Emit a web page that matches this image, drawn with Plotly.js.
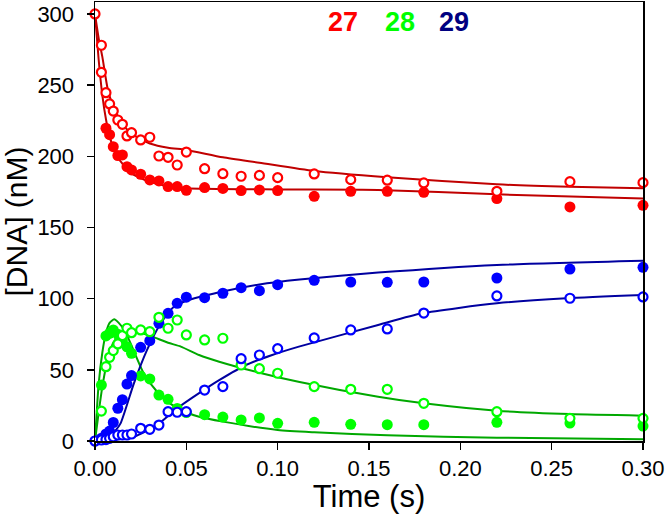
<!DOCTYPE html>
<html>
<head>
<meta charset="utf-8">
<script src="https://cdn.plot.ly/plotly-3.0.1.min.js"></script>
<style>
  html, body { margin: 0; padding: 0; background: #fff; }
  #chart { width: 666px; height: 514px; }
</style>
</head>
<body>
<div id="chart"></div>
<script>
// measured points (time in s, [DNA] in nM)
const t27open = [0, 0.0035, 0.0035, 0.006, 0.008, 0.010, 0.0125, 0.015, 0.0175, 0.020, 0.025, 0.030, 0.035, 0.040, 0.045, 0.050, 0.06, 0.07, 0.08, 0.09, 0.10, 0.12, 0.14, 0.16, 0.18, 0.22, 0.26, 0.30];
const y27open = [300, 278, 259, 244.7, 236.8, 231.8, 225.5, 222.5, 214.3, 216.6, 211.5, 213.4, 200.2, 199.3, 193.9, 203, 191.3, 187.8, 186, 186.6, 185, 187.6, 183.6, 183.2, 181.3, 175.4, 182.2, 181.5];

const t27filled = [0.006, 0.008, 0.010, 0.0125, 0.015, 0.0175, 0.020, 0.025, 0.030, 0.035, 0.040, 0.045, 0.050, 0.06, 0.07, 0.08, 0.09, 0.10, 0.12, 0.14, 0.16, 0.18, 0.22, 0.26, 0.30];
const y27filled = [219.7, 215.2, 206.8, 200.5, 201, 192.7, 190.4, 187.4, 183.4, 182.7, 178.7, 178.7, 176.1, 178, 177.4, 175.9, 176.4, 175.9, 171.9, 175.4, 175.4, 174.7, 170.3, 164.4, 165.6];

const t28open = [0.0035, 0.006, 0.008, 0.010, 0.0125, 0.015, 0.0175, 0.020, 0.025, 0.030, 0.035, 0.040, 0.045, 0.050, 0.06, 0.07, 0.08, 0.09, 0.10, 0.12, 0.14, 0.16, 0.18, 0.22, 0.26, 0.30];
const y28open = [21, 52.2, 58.8, 63.5, 68.2, 74, 79.2, 76.1, 78, 76.8, 86.9, 79.2, 85, 74.5, 71, 72.2, 53.4, 50.8, 47.6, 38.2, 36.3, 36.3, 26.5, 20.6, 15.9, 15.9];

const t28filled = [0.0035, 0.006, 0.008, 0.010, 0.0125, 0.015, 0.0175, 0.020, 0.025, 0.030, 0.035, 0.040, 0.045, 0.050, 0.06, 0.07, 0.08, 0.09, 0.10, 0.12, 0.14, 0.16, 0.18, 0.22, 0.26, 0.30];
const y28filled = [39.3, 73.8, 75.7, 78, 75, 71, 66.2, 61.6, 45.7, 43.6, 32.3, 29.3, 22.9, 20, 18.5, 16.8, 14.8, 16.2, 12.4, 13.1, 11.7, 11.5, 11.5, 13.1, 12.6, 10.5];

const t29open = [0, 0.0035, 0.006, 0.008, 0.010, 0.0125, 0.015, 0.0175, 0.020, 0.025, 0.030, 0.035, 0.040, 0.045, 0.050, 0.06, 0.07, 0.08, 0.09, 0.10, 0.12, 0.14, 0.16, 0.18, 0.22, 0.26, 0.30];
const y29open = [0, 0.7, 1, 1.9, 3, 4.2, 4.2, 4.2, 4.9, 8.9, 8.2, 11.2, 20.6, 20.2, 20.6, 35.8, 38.2, 57.8, 60.4, 64.9, 72.4, 78, 78.7, 89.9, 101.9, 100.3, 101.2];

const t29filled = [0, 0.0035, 0.006, 0.008, 0.010, 0.0125, 0.015, 0.0175, 0.020, 0.025, 0.030, 0.035, 0.040, 0.045, 0.050, 0.06, 0.07, 0.08, 0.09, 0.10, 0.12, 0.14, 0.16, 0.18, 0.22, 0.26, 0.30];
const y29filled = [0, 2, 5, 7, 13, 23, 29, 40, 46, 65.8, 70.5, 82.7, 89.7, 96.7, 101, 100.7, 103.8, 107.7, 105.6, 109.8, 112.9, 111.7, 111.5, 111.7, 114.5, 120.8, 122];

// fitted curves
const tFit27open = [0, 0.002, 0.004, 0.007, 0.010, 0.013, 0.016, 0.020, 0.025, 0.030, 0.040, 0.050, 0.070, 0.090, 0.120, 0.160, 0.220, 0.260, 0.300];
const yFit27open = [300, 283, 270, 247, 235, 227, 221, 216, 212, 209, 206, 204.5, 199.3, 195.5, 189.7, 185.3, 180.3, 178.6, 177.5];

const tFit27filled = [0, 0.002, 0.004, 0.006, 0.008, 0.012, 0.020, 0.030, 0.040, 0.050, 0.100, 0.155, 0.220, 0.300];
const yFit27filled = [300, 268, 243, 226, 214, 200, 188, 182, 179, 177.5, 176.7, 176.4, 173.3, 170.3];

const tFit28open = [0, 0.002, 0.004, 0.006, 0.008, 0.010, 0.013, 0.016, 0.020, 0.025, 0.031, 0.040, 0.047, 0.057, 0.068, 0.090, 0.112, 0.155, 0.180, 0.220, 0.260, 0.300];
const yFit28open = [0, 20, 38, 52, 62, 69, 74, 76.5, 77, 76, 73.5, 69, 66.3, 60.4, 55.7, 48, 41.5, 31.1, 26.5, 21.3, 18.9, 17.8];

const tFit28filled = [0, 0.002, 0.004, 0.006, 0.008, 0.0105, 0.013, 0.0165, 0.0195, 0.0267, 0.034, 0.041, 0.050, 0.057, 0.070, 0.100, 0.120, 0.160, 0.220, 0.300];
const yFit28filled = [0, 40, 62, 76, 83, 85.5, 83, 77, 68.6, 47.5, 34.6, 26.4, 20.2, 17, 13.6, 7.7, 6.1, 4, 2.3, 1.2];

const tFit29open = [0, 0.010, 0.0213, 0.034, 0.045, 0.0574, 0.0682, 0.0826, 0.097, 0.1116, 0.155, 0.179, 0.220, 0.258, 0.300];
const yFit29open = [0, 0.8, 3, 11.2, 23, 34, 42.9, 53.4, 60.4, 66.3, 81.5, 89.7, 96.7, 100.3, 102.6];

const tFit29filled = [0, 0.004, 0.008, 0.011, 0.014, 0.0213, 0.0285, 0.0357, 0.0429, 0.050, 0.068, 0.090, 0.112, 0.155, 0.220, 0.300];
const yFit29filled = [0, 0.5, 3, 7, 12.4, 40.5, 64, 82, 94, 98.5, 104.5, 110, 113.5, 118.3, 123.7, 126.7];

const xTicks = [0, 0.05, 0.10, 0.15, 0.20, 0.25, 0.30];
const labels = ['27', '28', '29'];

const markColor = { 27: '#ff0000', 28: '#00ff00', 29: '#0000ff' };
const lineColor = { 27: '#c00000', 28: '#00a800', 29: '#0000a0' };
const labelColor = ['#ff0000', '#00ff00', '#000080'];

function fit(t, y, key) {
    return {
        x: t, y: y, type: 'scatter', mode: 'lines', hoverinfo: 'skip',
        line: { color: lineColor[key], width: 2, shape: 'spline', smoothing: 0.6 },
        cliponaxis: false
    };
}

function pts(t, y, key, open) {
    return {
        x: t, y: y, type: 'scatter', mode: 'markers', cliponaxis: false,
        marker: open
            ? { symbol: 'circle', size: 9, color: '#ffffff', line: { color: markColor[key], width: 2.2 } }
            : { symbol: 'circle', size: 11, color: markColor[key], line: { width: 0 } }
    };
}

const data = [
    fit(tFit27open, yFit27open, 27),
    fit(tFit27filled, yFit27filled, 27),
    fit(tFit28open, yFit28open, 28),
    fit(tFit28filled, yFit28filled, 28),
    fit(tFit29open, yFit29open, 29),
    fit(tFit29filled, yFit29filled, 29),
    pts(t27filled, y27filled, 27, false),
    pts(t28filled, y28filled, 28, false),
    pts(t29filled, y29filled, 29, false),
    pts(t27open, y27open, 27, true),
    pts(t28open, y28open, 28, true),
    pts(t29open, y29open, 29, true)
];

const font = 'Liberation Sans, Arial, sans-serif';

const layout = {
    width: 666, height: 514,
    margin: { l: 95, r: 23, t: 2, b: 73 },
    paper_bgcolor: '#ffffff',
    plot_bgcolor: '#ffffff',
    showlegend: false,
    font: { family: font, color: '#000' },
    xaxis: {
        range: [0, 0.30],
        tickvals: xTicks,
        ticktext: xTicks.map(function(v) { return v.toFixed(2); }),
        ticks: 'outside', ticklen: 7, tickwidth: 1.5, tickcolor: '#000',
        showline: true, linecolor: '#000', linewidth: 1.5, mirror: true,
        showgrid: false, zeroline: false,
        tickfont: { size: 22, family: font },
        title: { text: 'Time (s)', font: { size: 31, family: font }, standoff: 1 }
    },
    yaxis: {
        range: [0, 308.4],
        dtick: 50, tick0: 0,
        ticks: 'outside', ticklen: 7, tickwidth: 1.5, tickcolor: '#000',
        showline: true, linecolor: '#000', linewidth: 1.5, mirror: true,
        showgrid: false, zeroline: false,
        ticklabelstandoff: 8,
        tickfont: { size: 22, family: font },
        title: { text: '[DNA] (nM)', font: { size: 30, family: font }, standoff: 2 }
    },
    annotations: labels.map(function(txt, i) {
        return {
            text: '<b>' + txt + '</b>', xref: 'paper', yref: 'paper',
            x: [0.452, 0.556, 0.656][i], y: 0.955,
            xanchor: 'center', yanchor: 'middle', showarrow: false,
            font: { size: 27, family: font, color: labelColor[i] }
        };
    })
};

Plotly.newPlot('chart', data, layout, { displayModeBar: false, staticPlot: true });
</script>
</body>
</html>
